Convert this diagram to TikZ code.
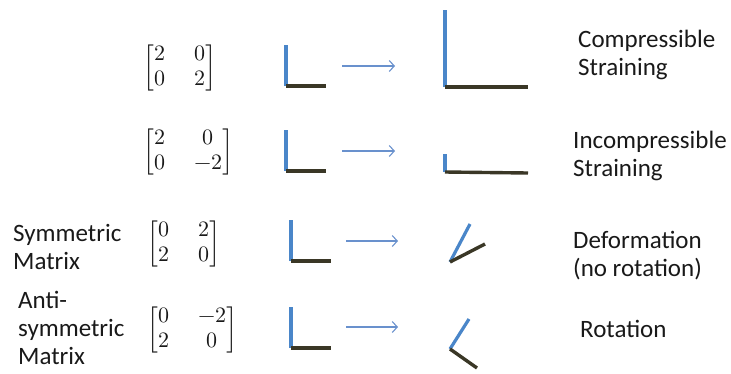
\documentclass[tikz,border=0pt]{standalone}
\usepackage{amsmath}
\usepackage{fontspec}
\usepackage{unicode-math}
\setmainfont{Carlito}
\setmathfont{Latin Modern Math}
\usepackage{xcolor}
\usetikzlibrary{arrows.meta}

\definecolor{segblue}{RGB}{74,134,201}
\definecolor{segdark}{RGB}{58,55,38}
\definecolor{arrblue}{RGB}{105,145,205}

\tikzset{
    caption/.style={anchor=west,align=left,inner sep=0pt,text=black!90,
        font=\fontsize{25}{28}\selectfont},
    mat/.style={anchor=west,inner sep=0pt,text=black!90,
        font=\fontsize{22}{25}\selectfont},
    bluebar/.style={draw=segblue,line width=3.2pt},
    darkbar/.style={draw=segdark,line width=3.4pt},
    maps/.style={draw=arrblue,line width=1.1pt,-{Straight Barb[length=5pt,width=11pt]}}
}

\begin{document}
\begin{tikzpicture}[x=1pt,y=-1pt]
    \useasboundingbox (0,0) rectangle (731,373);

    % matrices
    \node[mat] (M1) at (143,68) {\setlength{\arraycolsep}{14.5pt}$\begin{bmatrix}2 & 0\\0 & 2\end{bmatrix}$};
    \node[mat] (M2) at (143,152) {\setlength{\arraycolsep}{14.5pt}$\begin{bmatrix}2 & 0\\0 & -2\end{bmatrix}$};
    \node[mat] (M3) at (147,244) {\setlength{\arraycolsep}{14.5pt}$\begin{bmatrix}0 & 2\\2 & 0\end{bmatrix}$};
    \node[mat] (M4) at (147,330) {\setlength{\arraycolsep}{14.5pt}$\begin{bmatrix}0 & -2\\2 & 0\end{bmatrix}$};

    \node[caption] (symlbl) at (13,247) {Symmetric\\Matrix};
    \node[caption] (antilbl) at (18,328) {Anti-\\symmetric\\Matrix};

    % unit corners and arrows
    \foreach \i/\x/\y/\ax/\bx/\ay in {1/286/86/342/395/66,2/286/171/342/395/151,3/291/261/346/398/241,4/291/348/346/398/327}{
        \coordinate (O\i) at (\x,\y);
        \draw[bluebar] (O\i) -- ++(0,-41);
        \draw[darkbar] (O\i) -- ++(40,0);
        \coordinate (A\i) at (\ax,\ay);
        \coordinate (B\i) at (\bx,\ay);
        \draw[maps] (A\i) -- (B\i);
    }

    % mapped corners
    \foreach \i/\vx/\vy/\px/\py/\qx/\qy in {1/445/87/445/10/528/87,2/445/172/445/154/528/173,3/450/262/470/224/485/244,4/450/349/469/319/477/368}{
        \coordinate (V\i) at (\vx,\vy);
        \draw[bluebar] (V\i) -- (\px,\py);
        \draw[darkbar] (V\i) -- (\qx,\qy);
    }

    \node[caption] (res1) at (578,55) {Compressible\\Straining};
    \node[caption] (res2) at (573,156) {Incompressible\\Straining};
    \node[caption] (res3) at (573,256) {Deformation\\(no rotation)};
    \node[caption] (res4) at (580,329) {Rotation};
\end{tikzpicture}
\end{document}
